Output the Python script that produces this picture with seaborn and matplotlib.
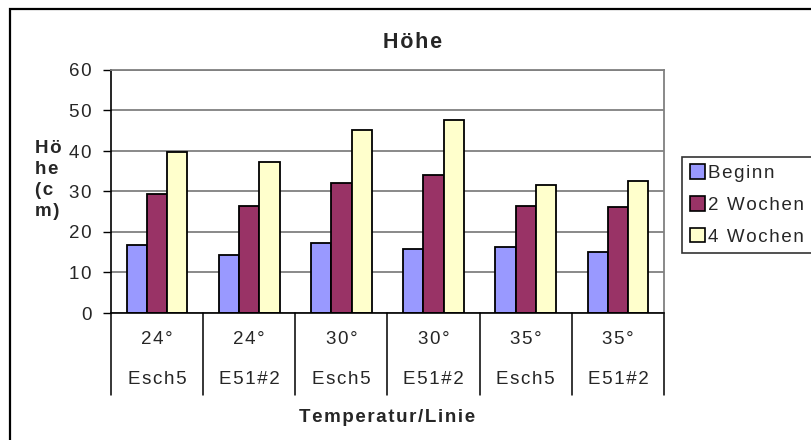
import matplotlib
matplotlib.use("Agg")
import matplotlib.pyplot as plt
from matplotlib.patches import Rectangle, Patch
import seaborn as sns
import pandas as pd

temps = ["24°", "24°", "30°", "30°", "35°", "35°"]
lines = ["Esch5", "E51#2", "Esch5", "E51#2", "Esch5", "E51#2"]
series = ["Beginn", "2 Wochen", "4 Wochen"]
beginn = [16.8, 14.2, 17.3, 15.9, 16.2, 15.0]
wochen2 = [29.3, 26.5, 32.0, 34.1, 26.5, 26.1]
wochen4 = [39.7, 37.4, 45.2, 47.7, 31.6, 32.7]
colors = ["#9999FF", "#993366", "#FFFFCC"]
yticks = [0, 10, 20, 30, 40, 50, 60]


def sp(s):
    # emulate the letter spacing of the original rendering
    return "\u200a".join(s)


cats = [f"{t}|{l}|{i}" for i, (t, l) in enumerate(zip(temps, lines))]
rows = []
for name, vals in zip(series, [beginn, wochen2, wochen4]):
    for c, v in zip(cats, vals):
        rows.append({"cat": c, "Serie": name, "Wert": v})
df = pd.DataFrame(rows)

sns.set_theme(style="white")
plt.rcParams["font.family"] = ["Liberation Sans", "DejaVu Sans"]

W, H = 811, 440
fig = plt.figure(figsize=(W / 100, H / 100), dpi=100)
x0, x1, ytop, ybot = 111, 664, 70, 313
ax = fig.add_axes([x0 / W, 1 - ybot / H, (x1 - x0) / W, (ybot - ytop) / H])

sns.barplot(data=df, x="cat", y="Wert", hue="Serie", order=cats, hue_order=series,
            palette=colors, width=0.66, edgecolor="black", linewidth=1.3,
            saturation=1, ax=ax, legend=False)

ax.set_ylim(0, 60)
ax.set_xlim(-0.5, 5.5)
ax.set_yticks(yticks)
ax.set_yticklabels([sp(str(v)) for v in yticks], fontsize=13.5)
ax.set_xticks([])
ax.set_xlabel("")
ax.set_ylabel("")
ax.yaxis.grid(True, color="#808080", linewidth=1.3)
ax.set_axisbelow(True)
ax.tick_params(axis="y", which="both", left=True, length=6, width=1, color="black", pad=8)
for s in ["top", "right"]:
    ax.spines[s].set_color("#808080")
    ax.spines[s].set_linewidth(1.3)
for s in ["left", "bottom"]:
    ax.spines[s].set_color("black")
    ax.spines[s].set_linewidth(1.2)

# multi-level category axis
trans = ax.get_xaxis_transform()
ph = ybot - ytop
sep_bottom = -(395 - ybot) / ph
for k in range(len(cats) + 1):
    ax.plot([k - 0.5, k - 0.5], [0, sep_bottom], color="black", lw=1.1,
            transform=trans, clip_on=False)
for k, (t, l) in enumerate(zip(temps, lines)):
    ax.text(k, -(340 - ybot) / ph, sp(t), transform=trans, ha="center", va="center",
            fontsize=13.5)
    ax.text(k, -(380 - ybot) / ph, sp(l), transform=trans, ha="center", va="center",
            fontsize=13.5)

fig.text(387 / W, 1 - 417 / H, sp("Temperatur/Linie"), ha="center", va="center",
         fontsize=13.5, fontweight="bold")
fig.text(413 / W, 1 - 42 / H, sp("Höhe"), ha="center", va="center",
         fontsize=15.5, fontweight="bold")
fig.text(35 / W, 1 - 180 / H, "\n".join(sp(p) for p in ["Hö", "he", "(c", "m)"]),
         ha="left", va="center", fontsize=13.5, fontweight="bold", linespacing=1.3)

handles = [Patch(facecolor=c, edgecolor="black", linewidth=1.2) for c in colors]
leg = fig.legend(handles, [sp(s) for s in series], loc="upper left",
                 bbox_to_anchor=(682 / W, 1 - 157 / H),
                 fontsize=13.5, frameon=True, fancybox=False,
                 handlelength=0.8, handleheight=0.8, handletextpad=0.2,
                 labelspacing=0.75, borderpad=0.4, borderaxespad=0)
leg.get_frame().set_edgecolor("black")
leg.get_frame().set_linewidth(1.2)

fig.add_artist(Rectangle((10 / W, -0.2), 2, 1 - 9 / H + 0.2, transform=fig.transFigure,
                         fill=False, edgecolor="black", linewidth=1.6))

fig.savefig("out.png", dpi=100)
